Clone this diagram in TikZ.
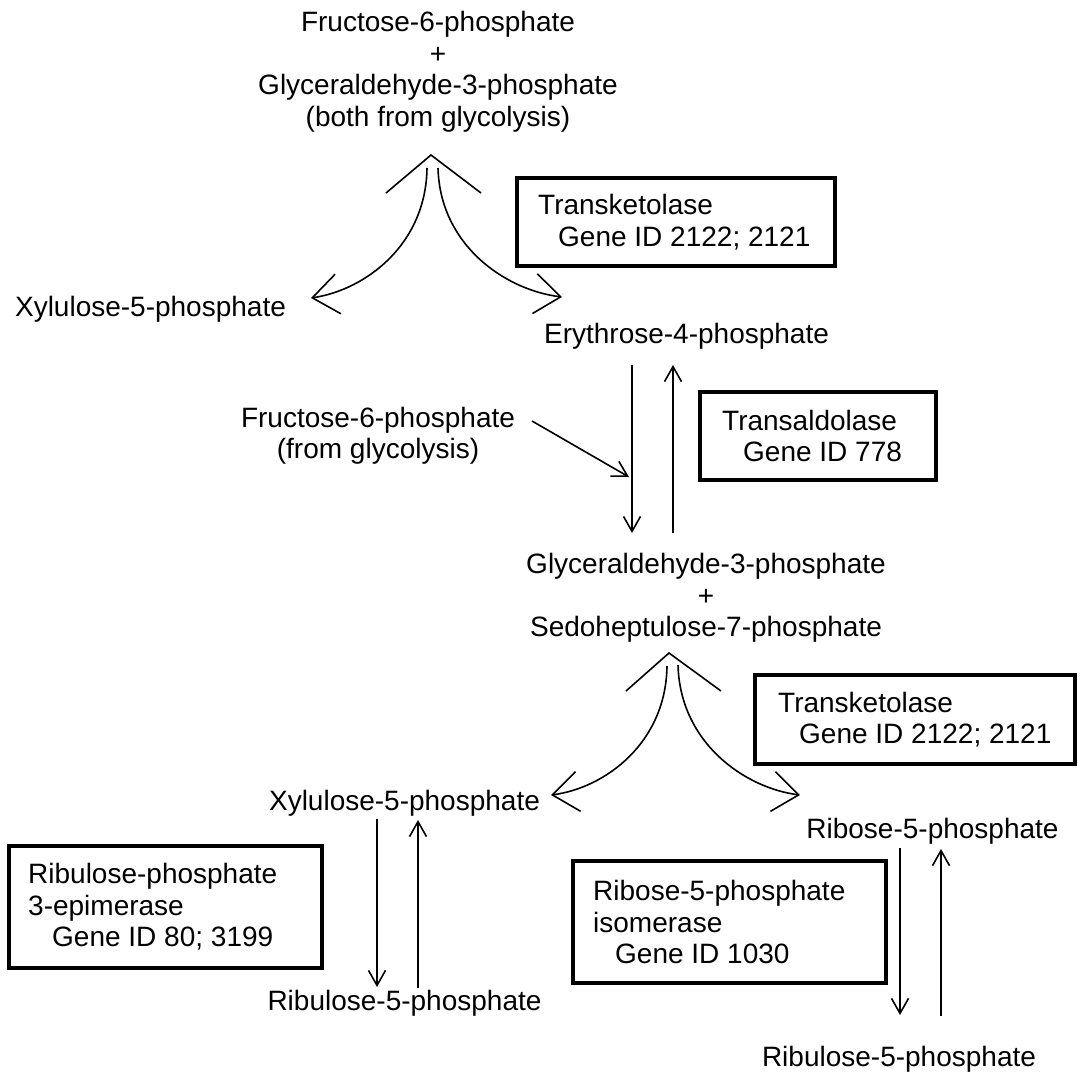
\documentclass[tikz,border=0pt]{standalone}
\usepackage{fontspec}
\setmainfont{Liberation Sans}
\usetikzlibrary{arrows.meta}
\begin{document}
\begin{tikzpicture}[x=1pt,y=-1pt,
  metab/.style={font=\fontsize{28}{31.5}\selectfont, align=center, inner sep=0pt},
  enzbox/.style={draw, line width=4.5pt, inner sep=0pt},
  enztext/.style={font=\fontsize{28}{31.5}\selectfont, align=left, inner sep=0pt, anchor=west},
  flow/.style={line width=1.6pt, -{Straight Barb[length=15pt,width=17pt]}},
  branch/.style={line width=1.6pt, -{Straight Barb[length=26pt,width=40pt]}},
  fork/.style={line width=1.6pt}
]
\useasboundingbox (0,0) rectangle (1081,1074);

% metabolites
\node[metab] (f6pg3p) at (438,72) {Fructose-6-phosphate\\+\\Glyceraldehyde-3-phosphate\\(both from glycolysis)};
\node[metab] (xu5pa) at (150.5,309) {Xylulose-5-phosphate};
\node[metab] (e4p) at (686.5,336) {Erythrose-4-phosphate};
\node[metab] (f6p) at (378,436) {Fructose-6-phosphate\\(from glycolysis)};
\node[metab] (g3ps7p) at (706,598) {Glyceraldehyde-3-phosphate\\+\\Sedoheptulose-7-phosphate};
\node[metab] (xu5pb) at (404.5,803) {Xylulose-5-phosphate};
\node[metab] (r5p) at (932.5,831) {Ribose-5-phosphate};
\node[metab] (ru5pa) at (404.5,1003) {Ribulose-5-phosphate};
\node[metab] (ru5pb) at (899,1059) {Ribulose-5-phosphate};

% enzyme boxes
\node[enzbox, minimum width=318pt, minimum height=88pt] (tk1) at (676,222) {};
\node[enztext] (tk1txt) at (538,222) {Transketolase\\\hspace*{20pt}Gene ID 2122; 2121};
\node[enzbox, minimum width=236pt, minimum height=88pt] (ta) at (818,436) {};
\node[enztext] (tatxt) at (722,436) {Transaldolase\\\hspace*{21pt}Gene ID 778};
\node[enzbox, minimum width=320pt, minimum height=89pt] (tk2) at (915,719.5) {};
\node[enztext] (tk2txt) at (778,719.5) {Transketolase\\\hspace*{21pt}Gene ID 2122; 2121};
\node[enzbox, minimum width=313pt, minimum height=122pt] (rpe) at (165.5,907) {};
\node[enztext] (rpetxt) at (28,907) {Ribulose-phosphate\\3-epimerase\\\hspace*{24pt}Gene ID 80; 3199};
\node[enzbox, minimum width=313pt, minimum height=122pt] (rpi) at (729.5,922) {};
\node[enztext] (rpitxt) at (593,922) {Ribose-5-phosphate\\isomerase\\\hspace*{22pt}Gene ID 1030};

% first transketolase step
\coordinate (tk1apex) at (431,155);
\coordinate (tk1armL) at (386,193);
\coordinate (tk1armR) at (481,193);
\coordinate (tk1L) at (427,168);
\coordinate (tk1R) at (438,168);
\coordinate (tk1xu) at (311,298);
\coordinate (tk1e4) at (562,297);
\draw[fork] (tk1armL) -- (tk1apex) -- (tk1armR);
\draw[branch] (tk1L) .. controls (426,245) and (365,290) .. (tk1xu);
\draw[branch] (tk1R) .. controls (440,245) and (505,290) .. (tk1e4);

% transaldolase step
\coordinate (taDtop) at (632,365);
\coordinate (taDbot) at (632,533);
\coordinate (taUbot) at (673,533);
\coordinate (taUtop) at (673,365);
\coordinate (taIn) at (532,421);
\coordinate (taJoin) at (629,477);
\draw[flow] (taDtop) -- (taDbot);
\draw[flow] (taUbot) -- (taUtop);
\draw[flow] (taIn) -- (taJoin);

% second transketolase step
\coordinate (tk2apex) at (669,653);
\coordinate (tk2armL) at (626,691);
\coordinate (tk2armR) at (721,691);
\coordinate (tk2L) at (667,666);
\coordinate (tk2R) at (678,665);
\coordinate (tk2xu) at (551,795);
\coordinate (tk2r5) at (800,795);
\draw[fork] (tk2armL) -- (tk2apex) -- (tk2armR);
\draw[branch] (tk2L) .. controls (666,743) and (605,788) .. (tk2xu);
\draw[branch] (tk2R) .. controls (680,743) and (745,788) .. (tk2r5);

% epimerase
\coordinate (rpeDtop) at (377,819);
\coordinate (rpeDbot) at (377,987);
\coordinate (rpeUbot) at (418,988);
\coordinate (rpeUtop) at (418,820);
\draw[flow] (rpeDtop) -- (rpeDbot);
\draw[flow] (rpeUbot) -- (rpeUtop);

% isomerase
\coordinate (rpiDtop) at (900,848);
\coordinate (rpiDbot) at (900,1015);
\coordinate (rpiUbot) at (941,1016);
\coordinate (rpiUtop) at (941,849);
\draw[flow] (rpiDtop) -- (rpiDbot);
\draw[flow] (rpiUbot) -- (rpiUtop);
\end{tikzpicture}
\end{document}
